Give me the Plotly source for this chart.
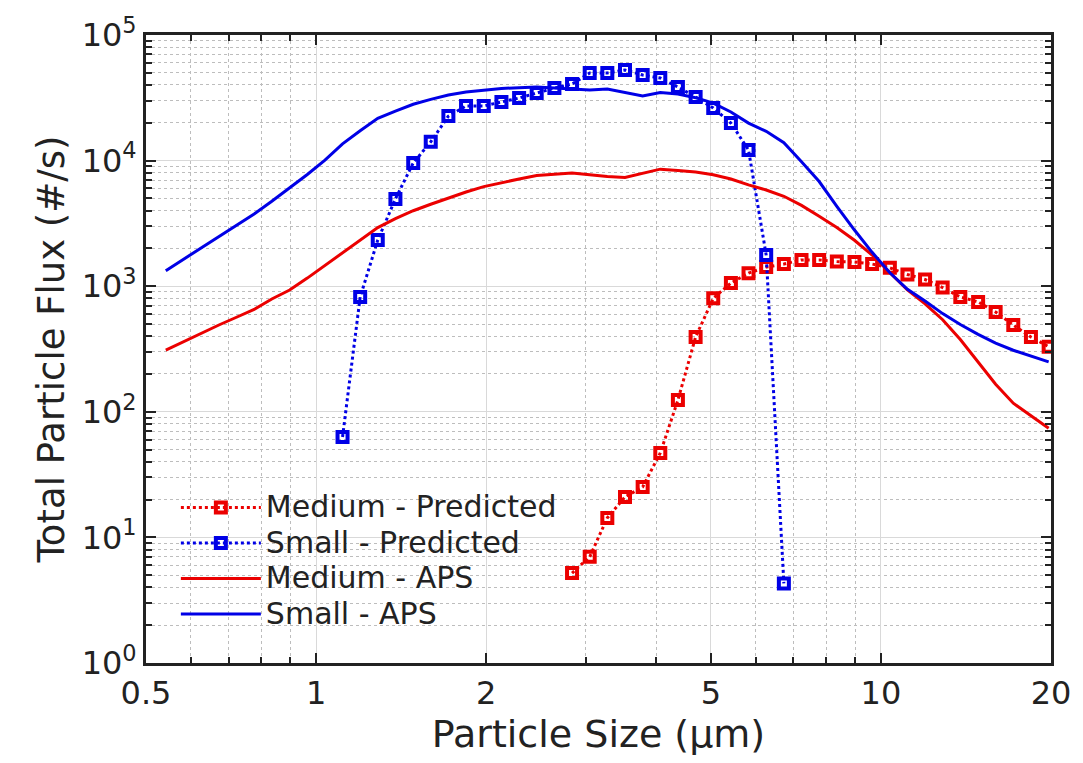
import plotly.graph_objects as go

# APS channel midpoint diameters (um)
aps_size = [0.542, 0.583, 0.626, 0.673, 0.723, 0.777, 0.835, 0.898, 0.965, 1.037,
            1.114, 1.197, 1.286, 1.382, 1.486, 1.596, 1.715, 1.843, 1.981, 2.129,
            2.288, 2.458, 2.642, 2.839, 3.051, 3.278, 3.523, 3.786, 4.068, 4.371,
            4.698, 5.048, 5.425, 5.829, 6.264, 6.732, 7.234, 7.774, 8.354, 8.977,
            9.647, 10.37, 11.14, 11.97, 12.86, 13.82, 14.86, 15.96, 17.15, 18.43, 19.81]

# Measured total particle flux (#/s)
small_aps = [1330, 1640, 2010, 2480, 3050, 3760, 4740, 6070, 7750, 10100,
             13600, 17300, 21700, 24800, 28100, 30700, 33300, 35200, 36300, 37500,
             38100, 38500, 37800, 37200, 36500, 37200, 34900, 32700, 34900, 33900,
             31700, 28700, 24400, 19900, 17100, 13900, 9800, 6810, 4330, 2800,
             1860, 1280, 944, 762, 605, 496, 414, 352, 309, 278, 250]

medium_aps = [310, 363, 423, 491, 566, 653, 791, 933, 1160, 1460,
              1840, 2340, 2930, 3450, 3990, 4490, 5050, 5620, 6210, 6700,
              7140, 7620, 7820, 7960, 7710, 7460, 7330, 7890, 8550, 8340,
              8100, 7720, 7140, 6410, 5830, 5200, 4400, 3610, 2930, 2320,
              1770, 1280, 936, 724, 541, 376, 251, 166, 117, 93, 74]

# Model predictions
small_pred_size = [1.114, 1.197, 1.286, 1.382, 1.486, 1.596, 1.715, 1.843, 1.981, 2.129,
                   2.288, 2.458, 2.642, 2.839, 3.051, 3.278, 3.523, 3.786, 4.068, 4.371,
                   4.698, 5.048, 5.425, 5.829, 6.264, 6.732]
small_pred_flux = [63, 820, 2330, 4950, 9570, 14100, 22600, 27200, 27200, 29300,
                   31500, 34500, 37800, 40700, 49800, 49800, 52600, 48000, 45500, 38500,
                   32100, 26200, 19900, 12150, 1770, 4.3]

medium_pred_size = [2.839, 3.051, 3.278, 3.523, 3.786, 4.068, 4.371, 4.698, 5.048, 5.425,
                    5.829, 6.264, 6.732, 7.234, 7.774, 8.354, 8.977, 9.647, 10.37, 11.14,
                    11.97, 12.86, 13.82, 14.86, 15.96, 17.15, 18.43, 19.81]
medium_pred_flux = [5.2, 7.0, 14.3, 21.0, 25.2, 47, 124, 394, 800, 1060,
                    1270, 1420, 1500, 1620, 1620, 1570, 1560, 1500, 1400, 1240,
                    1130, 975, 820, 750, 623, 491, 394, 330]

series_names = ["Medium - Predicted", "Small - Predicted", "Medium - APS", "Small - APS"]

x_tick_vals = [0.5, 1, 2, 5, 10, 20]
x_tick_text = ["0.5", "1", "2", "5", "10", "20"]
x_minor_vals = [0.6, 0.7, 0.8, 0.9, 3, 4, 6, 7, 8, 9]
y_tick_vals = [1, 10, 100, 1000, 10000, 100000]
y_tick_text = ["10<sup>%d</sup>" % k for k in range(6)]
y_minor_vals = [m * 10 ** d for d in range(5) for m in range(2, 10)]

RED = "rgb(235,0,0)"
BLUE = "rgb(0,0,230)"
FONT = "DejaVu Sans"
INK = "#222222"


def legend_label(text):
    # larger glyphs than the legend's row spacing font, keeps rows compact
    return "<span style='font-size:30px'>%s</span>" % text


fig = go.Figure()

fig.add_trace(go.Scatter(
    x=medium_pred_size, y=medium_pred_flux, mode="lines+markers",
    name=legend_label(series_names[0]),
    line=dict(color=RED, width=3, dash="dot"),
    marker=dict(symbol="square-open", size=10, color=RED, line=dict(color=RED, width=4)),
))
fig.add_trace(go.Scatter(
    x=small_pred_size, y=small_pred_flux, mode="lines+markers",
    name=legend_label(series_names[1]),
    line=dict(color=BLUE, width=3, dash="dot"),
    marker=dict(symbol="square-open", size=10, color=BLUE, line=dict(color=BLUE, width=4)),
))
fig.add_trace(go.Scatter(
    x=aps_size, y=medium_aps, mode="lines", name=legend_label(series_names[2]),
    line=dict(color=RED, width=3),
))
fig.add_trace(go.Scatter(
    x=aps_size, y=small_aps, mode="lines", name=legend_label(series_names[3]),
    line=dict(color=BLUE, width=3),
))

axis_common = dict(
    type="log",
    ticks="inside",
    ticklen=10,
    tickwidth=2,
    tickcolor=INK,
    showline=True,
    linewidth=3,
    linecolor=INK,
    mirror="allticks",
    showgrid=True,
    gridcolor="#d9d9d9",
    gridwidth=1,
    zeroline=False,
    tickfont=dict(family=FONT, size=32, color=INK),
)

fig.update_xaxes(
    **axis_common,
    range=[-0.30103, 1.30103],
    tickmode="array",
    tickvals=x_tick_vals,
    ticktext=x_tick_text,
    minor=dict(tickmode="array", tickvals=x_minor_vals, ticks="inside", ticklen=6,
               tickwidth=2, tickcolor=INK, showgrid=True, griddash="dot",
               gridcolor="#bdbdbd", gridwidth=1),
    title=dict(text="Particle Size (\u03bcm)", font=dict(family=FONT, size=38, color=INK),
               standoff=8),
)
fig.update_yaxes(
    **axis_common,
    range=[0, 5],
    tickmode="array",
    tickvals=y_tick_vals,
    ticktext=y_tick_text,
    minor=dict(tickmode="array", tickvals=y_minor_vals, ticks="inside", ticklen=6,
               tickwidth=2, tickcolor=INK, showgrid=True, griddash="dot",
               gridcolor="#bdbdbd", gridwidth=1),
    title=dict(text="Total Particle Flux (#/s)", font=dict(family=FONT, size=37, color=INK),
               standoff=6),
)

fig.update_layout(
    width=1083,
    height=763,
    margin=dict(l=146, r=26, t=35, b=100),
    paper_bgcolor="white",
    plot_bgcolor="white",
    showlegend=True,
    legend=dict(
        x=0.033, y=0.284, xanchor="left", yanchor="top",
        bgcolor="rgba(0,0,0,0)",
        font=dict(family=FONT, size=25, color=INK),
        itemwidth=80,
        tracegroupgap=0,
    ),
)

fig.write_html("out.html")
